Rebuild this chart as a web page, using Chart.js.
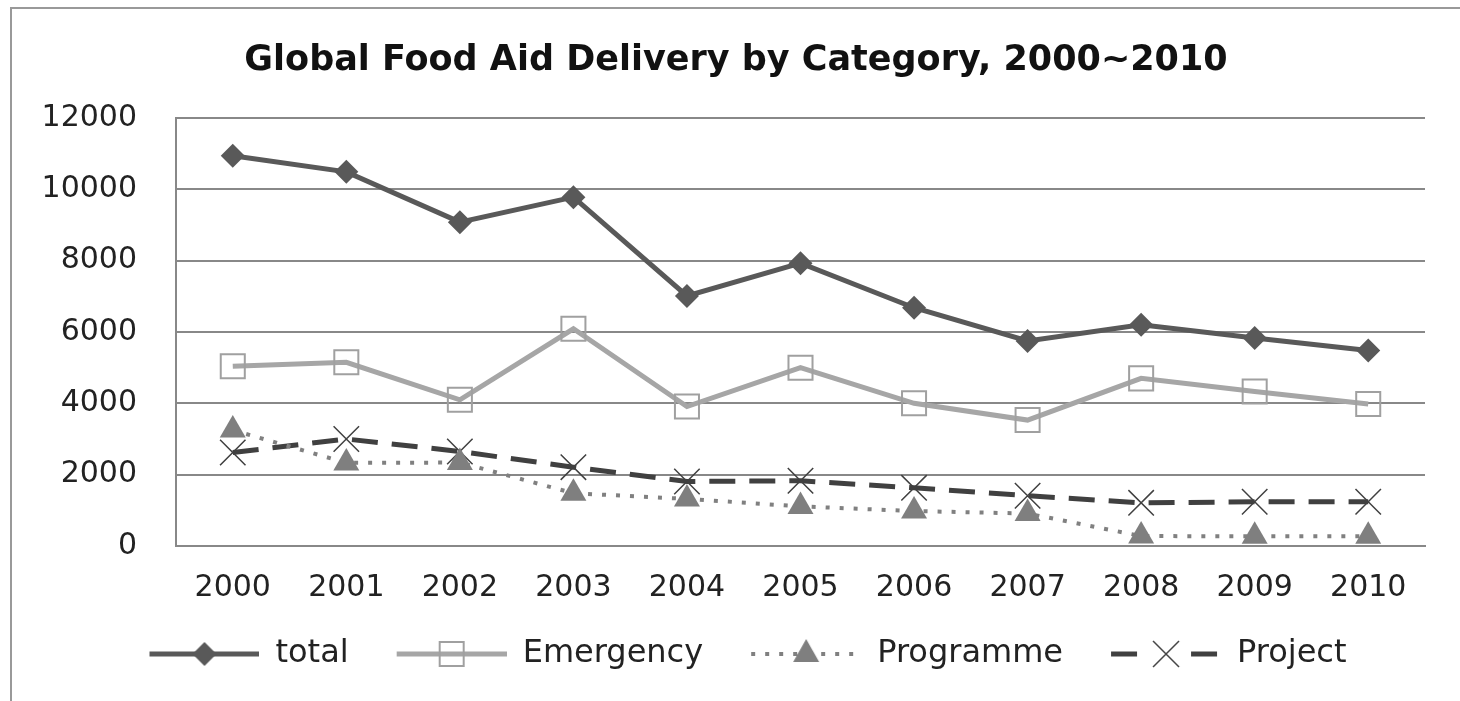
<!DOCTYPE html>
<html>
<head>
<meta charset="utf-8">
<script src="https://cdn.jsdelivr.net/npm/chart.js@4"></script>
<style>
  html, body { margin: 0; padding: 0; background: #fff; }
  #wrap { width: 1460px; height: 701px; }
</style>
</head>
<body>
<div id="wrap"><canvas id="myChart" width="1460" height="701"></canvas></div>
<script>
const years = ['2000', '2001', '2002', '2003', '2004', '2005', '2006', '2007', '2008', '2009', '2010'];
const totalAid = [10940, 10490, 9080, 9780, 7010, 7930, 6680, 5750, 6200, 5830, 5480];
const emergencyAid = [5040, 5150, 4100, 6090, 3910, 5000, 4000, 3530, 4700, 4330, 3980];
const programmeAid = [3250, 2330, 2340, 1480, 1320, 1110, 980, 910, 280, 270, 270];
const projectAid = [2620, 3000, 2650, 2210, 1810, 1830, 1630, 1410, 1210, 1240, 1240];
const seriesNames = ['total', 'Emergency', 'Programme', 'Project'];
const yMin = 0, yMax = 12000, yStep = 2000;

const FONT = 'DejaVu Sans';
const LEAD = 24;          // blank room in front of each legend sample
const ICON_W = 110 + LEAD;

// small canvas with the line sample + marker, used as legend point style
function legendIcon(color, width, dash, drawMarker) {
    const c = document.createElement('canvas');
    c.width = ICON_W; c.height = 40;
    const g = c.getContext('2d');
    g.strokeStyle = color;
    g.lineWidth = width;
    g.setLineDash(dash);
    g.beginPath();
    g.moveTo(LEAD, 20); g.lineTo(ICON_W, 20);
    g.stroke();
    g.setLineDash([]);
    drawMarker(g, LEAD + 55, 20);
    return c;
}

const icons = [
    legendIcon('#595959', 5, [], (g, x, y) => {
        g.fillStyle = '#595959';
        g.beginPath();
        g.moveTo(x, y - 12); g.lineTo(x + 12, y); g.lineTo(x, y + 12); g.lineTo(x - 12, y);
        g.closePath(); g.fill();
    }),
    legendIcon('#a6a6a6', 5, [], (g, x, y) => {
        g.strokeStyle = '#a0a0a0';
        g.lineWidth = 2;
        g.strokeRect(x - 12, y - 12, 24, 24);
    }),
    legendIcon('#808080', 4, [4, 10], (g, x, y) => {
        g.fillStyle = '#7f7f7f';
        g.beginPath();
        g.moveTo(x, y - 15); g.lineTo(x + 13, y + 8); g.lineTo(x - 13, y + 8);
        g.closePath(); g.fill();
    }),
    legendIcon('#404040', 5, [26, 14], (g, x, y) => {
        g.clearRect(x - 20, 0, 40, 40);
        g.strokeStyle = '#404040';
        g.lineWidth = 1.5;
        g.beginPath();
        g.moveTo(x - 13, y - 13); g.lineTo(x + 13, y + 13);
        g.moveTo(x + 13, y - 13); g.lineTo(x - 13, y + 13);
        g.stroke();
    })
];

const framePlugin = {
    id: 'frame',
    beforeDraw(chart) {
        const c = chart.ctx;
        c.save();
        c.fillStyle = '#fff';
        c.fillRect(0, 0, chart.width, chart.height);
        c.strokeStyle = '#999';
        c.lineWidth = 2;
        c.beginPath();
        c.moveTo(11, 701); c.lineTo(11, 8); c.lineTo(1460, 8);
        c.stroke();
        c.restore();
    }
};

const ctx = document.getElementById('myChart');

const config = {
    type: 'line',
    data: {
        labels: years,
        datasets: [
            {
                label: seriesNames[0],
                data: totalAid,
                borderColor: '#595959',
                backgroundColor: '#595959',
                borderWidth: 5,
                pointStyle: 'rectRot',
                pointRadius: 12,
                pointBackgroundColor: '#595959',
                pointBorderWidth: 0,
                tension: 0,
            },
            {
                label: seriesNames[1],
                data: emergencyAid,
                borderColor: '#a6a6a6',
                backgroundColor: '#a6a6a6',
                borderWidth: 5,
                pointStyle: 'rect',
                pointRadius: 17,
                pointBackgroundColor: 'rgba(0,0,0,0)',
                pointBorderColor: '#a0a0a0',
                pointBorderWidth: 2,
                tension: 0,
            },
            {
                label: seriesNames[2],
                data: programmeAid,
                borderColor: '#808080',
                backgroundColor: '#7f7f7f',
                borderWidth: 4,
                borderDash: [4, 10],
                pointStyle: 'triangle',
                pointRadius: 15,
                pointBackgroundColor: '#7f7f7f',
                pointBorderWidth: 0,
                tension: 0,
            },
            {
                label: seriesNames[3],
                data: projectAid,
                borderColor: '#404040',
                backgroundColor: '#404040',
                borderWidth: 5,
                borderDash: [26, 14],
                pointStyle: 'crossRot',
                pointRadius: 18,
                pointBorderColor: '#404040',
                pointBorderWidth: 1.5,
                tension: 0,
            }
        ]
    },
    options: {
        responsive: false,
        animation: false,
        layout: { padding: { left: 36, right: 24, top: 0, bottom: 21 } },
        plugins: {
            title: {
                display: true,
                text: 'Global Food Aid Delivery by Category, 2000~2010',
                color: '#111',
                font: { family: FONT, size: 35, weight: 'bold' },
                padding: { top: 40, bottom: 36 }
            },
            legend: {
                position: 'bottom',
                labels: {
                    usePointStyle: true,
                    pointStyleWidth: ICON_W,
                    padding: 24,
                    color: '#222',
                    font: { family: FONT, size: 32 },
                    generateLabels: (chart) =>
                        Chart.defaults.plugins.legend.labels.generateLabels(chart)
                            .map((l, i) => ({ ...l, pointStyle: icons[i] }))
                }
            },
            tooltip: { enabled: false }
        },
        scales: {
            x: {
                offset: true,
                afterFit: (scale) => { scale.height -= 16; },
                grid: { display: false, drawTicks: false },
                border: { display: true, color: '#888', width: 2 },
                ticks: { color: '#222', padding: 24, font: { family: FONT, size: 30 } }
            },
            y: {
                min: yMin,
                max: yMax,
                afterFit: (scale) => { scale.width = 140; },
                grid: { color: '#888', lineWidth: 2, drawTicks: false },
                border: { display: true, color: '#888', width: 2 },
                ticks: {
                    stepSize: yStep,
                    color: '#222',
                    padding: 39,
                    font: { family: FONT, size: 30 },
                    callback: (v) => String(v)
                }
            },
            // empty strip on the right so the plot ends where the reference does
            yRight: {
                position: 'right',
                afterFit: (scale) => { scale.width = 11; },
                grid: { display: false, drawTicks: false },
                border: { display: false },
                ticks: { display: false }
            }
        }
    },
    plugins: [framePlugin]
};

const myChart = new Chart(ctx, config);
</script>
</body>
</html>
